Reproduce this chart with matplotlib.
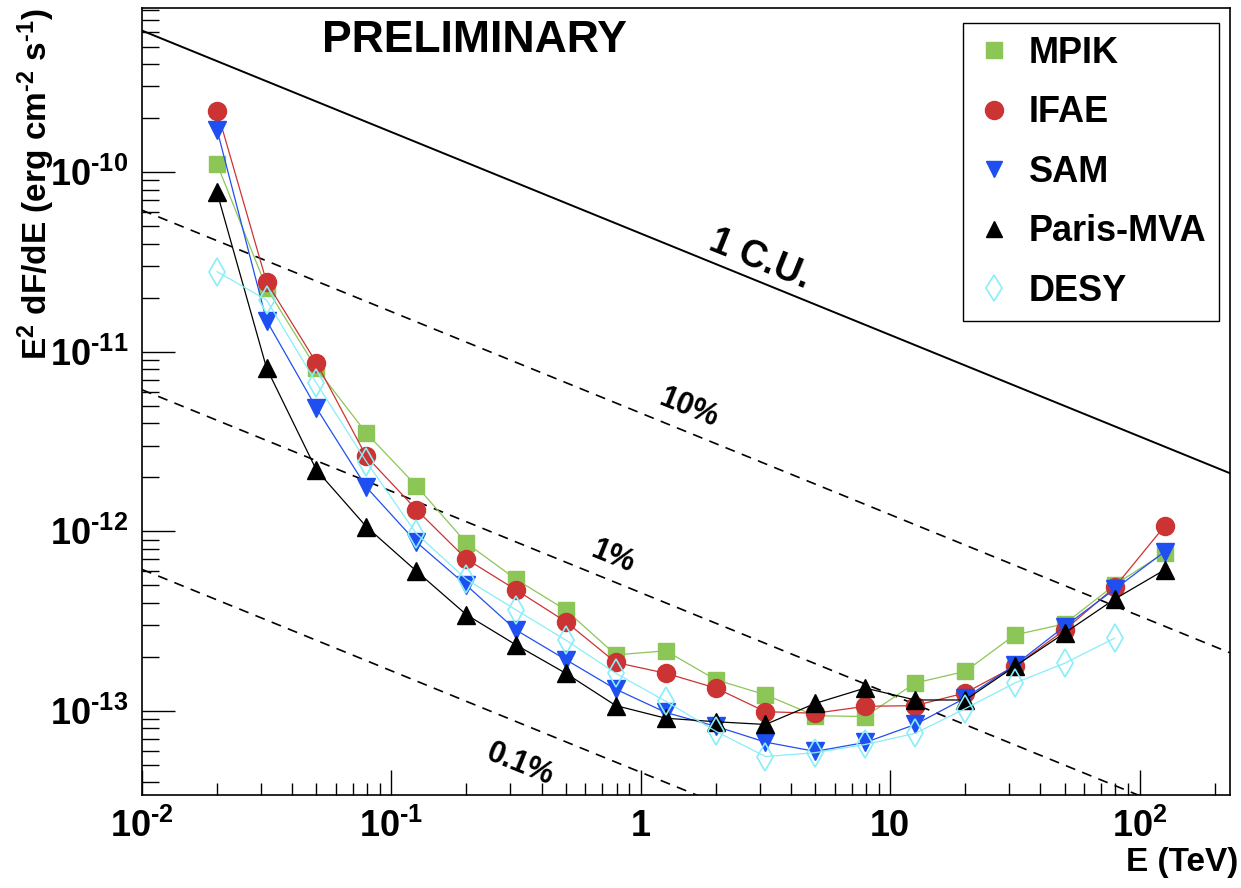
import matplotlib
matplotlib.use('Agg')
import matplotlib.pyplot as plt
import numpy as np
from matplotlib.lines import Line2D
from matplotlib.ticker import LogLocator, FuncFormatter, NullFormatter

plt.rcParams['font.family'] = ['Liberation Sans', 'DejaVu Sans']
plt.rcParams['font.weight'] = 'bold'
plt.rcParams['mathtext.fontset'] = 'custom'
plt.rcParams['mathtext.rm'] = 'Liberation Sans:bold'
plt.rcParams['mathtext.bf'] = 'Liberation Sans:bold'
plt.rcParams['mathtext.it'] = 'Liberation Sans:bold:italic'
plt.rcParams['mathtext.default'] = 'rm'

# energy bins (TeV)
energy = [0.02, 0.0316, 0.05, 0.0794, 0.126, 0.2, 0.316, 0.5, 0.794, 1.26,
          2.0, 3.16, 5.0, 7.94, 12.6, 20.0, 31.6, 50.0, 79.4, 126.0]

# sensitivity curves, E^2 dF/dE (erg cm^-2 s^-1)
mpik = [1.11e-10, 2.26e-11, 8.1e-12, 3.52e-12, 1.79e-12, 8.6e-13, 5.4e-13, 3.65e-13, 2.05e-13, 2.16e-13,
        1.49e-13, 1.23e-13, 9.4e-14, 9.3e-14, 1.43e-13, 1.66e-13, 2.65e-13, 3.05e-13, 5.03e-13, 7.6e-13]
ifae = [2.20e-10, 2.44e-11, 8.7e-12, 2.61e-12, 1.32e-12, 7.0e-13, 4.72e-13, 3.14e-13, 1.86e-13, 1.62e-13,
        1.34e-13, 9.9e-14, 9.7e-14, 1.06e-13, 1.07e-13, 1.26e-13, 1.77e-13, 2.82e-13, 4.88e-13, 1.07e-12]
sam = [1.72e-10, 1.49e-11, 4.87e-12, 1.76e-12, 8.7e-13, 5.0e-13, 2.82e-13, 1.93e-13, 1.32e-13, 9.8e-14,
       8.2e-14, 6.7e-14, 5.95e-14, 6.67e-14, 8.4e-14, 1.18e-13, 1.80e-13, 2.95e-13, 4.76e-13, 7.7e-13]
paris = [7.7e-11, 8.1e-12, 2.2e-12, 1.06e-12, 6.0e-13, 3.43e-13, 2.33e-13, 1.62e-13, 1.07e-13, 9.1e-14,
         8.7e-14, 8.4e-14, 1.10e-13, 1.34e-13, 1.15e-13, 1.15e-13, 1.77e-13, 2.71e-13, 4.19e-13, 6.1e-13]
desy = [2.79e-11, 1.94e-11, 6.7e-12, 2.44e-12, 9.7e-13, 5.4e-13, 3.65e-13, 2.48e-13, 1.62e-13, 1.13e-13,
        7.7e-14, 5.57e-14, 5.85e-14, 6.5e-14, 7.5e-14, 1.03e-13, 1.43e-13, 1.84e-13, 2.54e-13]

# crab unit reference
crab_norm = 4.55e-11   # at 1 TeV
crab_index = 2.565
fractions = [0.1, 0.01, 0.001]
fraction_labels = ['10%', '1%', '0.1%']

H = 888  # figure height in px, text positions below given from the top

fig = plt.figure(figsize=(12.41, 8.88), dpi=100)
ax = fig.add_axes([0.1144, 0.1047, 0.8766, 0.8863])
ax.set_xscale('log')
ax.set_yscale('log')
ax.set_xlim(0.01, 230)
ax.set_ylim(3.4e-14, 8.2e-10)

# crab lines
e_line = np.logspace(-2, np.log10(230), 200)
cu = crab_norm * e_line ** (2 - crab_index)
ax.plot(e_line, cu, color='black', lw=1.4)
for f in fractions:
    ax.plot(e_line, f * cu, color='black', lw=1.2, ls=(0, (6, 4.5)))

ax.text(760, H - 260, '1 C.U.', transform=None, fontsize=27, rotation=-22, ha='center', va='center')
ax.text(688, H - 408, fraction_labels[0], transform=None, fontsize=22, rotation=-22, ha='center', va='center')
ax.text(613, H - 557, fraction_labels[1], transform=None, fontsize=22, rotation=-22, ha='center', va='center')
ax.text(520, H - 765, fraction_labels[2], transform=None, fontsize=22, rotation=-22, ha='center', va='center')

c_mpik = '#8cc657'
c_ifae = '#cc3333'
c_sam = '#1f4ff0'
c_paris = 'black'
c_desy = '#88eef8'

ax.plot(energy, mpik, color=c_mpik, lw=0.9, marker='s', ms=12, mec=c_mpik, mfc=c_mpik)
ax.plot(energy, ifae, color=c_ifae, lw=0.9, marker='o', ms=13, mec=c_ifae, mfc=c_ifae)
ax.plot(energy, sam, color=c_sam, lw=0.9, marker='v', ms=13, mec=c_sam, mfc=c_sam)
ax.plot(energy, paris, color=c_paris, lw=0.9, marker='^', ms=13, mec=c_paris, mfc=c_paris)
ax.plot(energy[:len(desy)], desy, color=c_desy, lw=0.9, marker='d', ms=14, mec=c_desy, mfc='none', mew=1.2)

handles = [
    Line2D([], [], ls='none', marker='s', ms=12, color=c_mpik),
    Line2D([], [], ls='none', marker='o', ms=13, color=c_ifae),
    Line2D([], [], ls='none', marker='v', ms=12, color=c_sam),
    Line2D([], [], ls='none', marker='^', ms=12, color=c_paris),
    Line2D([], [], ls='none', marker='d', ms=13, mfc='none', mec=c_desy, mew=1.2),
]
leg = ax.legend(handles, ['MPIK', 'IFAE', 'SAM', 'Paris-MVA', 'DESY'],
                loc='upper right', bbox_to_anchor=(0.9899, 0.981), fontsize=26,
                frameon=True, fancybox=False, edgecolor='black', framealpha=1,
                labelspacing=0.68, handletextpad=0.45, borderpad=0.35, handlelength=1.0,
                borderaxespad=0)
leg.get_frame().set_linewidth(1.0)

ax.text(474, H - 40, 'PRELIMINARY', transform=None, fontsize=32, ha='center', va='center')


def pow10(p):
    if p < 0:
        return r'$10^{\text{-}%d}$' % (-p)
    return '$10^{%d}$' % p


def xfmt(v, pos):
    p = int(round(np.log10(v)))
    if p == 0:
        return '1'
    if p == 1:
        return '10'
    return pow10(p)


def yfmt(v, pos):
    return pow10(int(round(np.log10(v))))


ax.xaxis.set_major_locator(LogLocator(base=10, numticks=20))
ax.xaxis.set_minor_locator(LogLocator(base=10, subs=range(2, 10), numticks=20))
ax.yaxis.set_major_locator(LogLocator(base=10, numticks=20))
ax.yaxis.set_minor_locator(LogLocator(base=10, subs=range(2, 10), numticks=20))
ax.xaxis.set_major_formatter(FuncFormatter(xfmt))
ax.yaxis.set_major_formatter(FuncFormatter(yfmt))
ax.xaxis.set_minor_formatter(NullFormatter())
ax.yaxis.set_minor_formatter(NullFormatter())

ax.tick_params(axis='x', which='major', direction='in', length=18, width=1, labelsize=26, pad=10)
ax.tick_params(axis='x', which='minor', direction='in', length=9, width=1)
ax.tick_params(axis='y', which='major', direction='in', length=24, width=1, labelsize=26, pad=10)
ax.tick_params(axis='y', which='minor', direction='in', length=12, width=1)
ax.tick_params(top=False, right=False)

for s in ax.spines.values():
    s.set_linewidth(1.2)

fig.text(1238 / 1241, 1 - 862 / H, 'E (TeV)', fontsize=24, ha='right', va='center')
fig.text(36 / 1241, 1 - 9 / H, r'E$^{2}$ dF/dE (erg cm$^{\text{-}2}$ s$^{\text{-}1}$)', fontsize=24,
         rotation=90, ha='center', va='top')

fig.savefig('out.png', dpi=100)
